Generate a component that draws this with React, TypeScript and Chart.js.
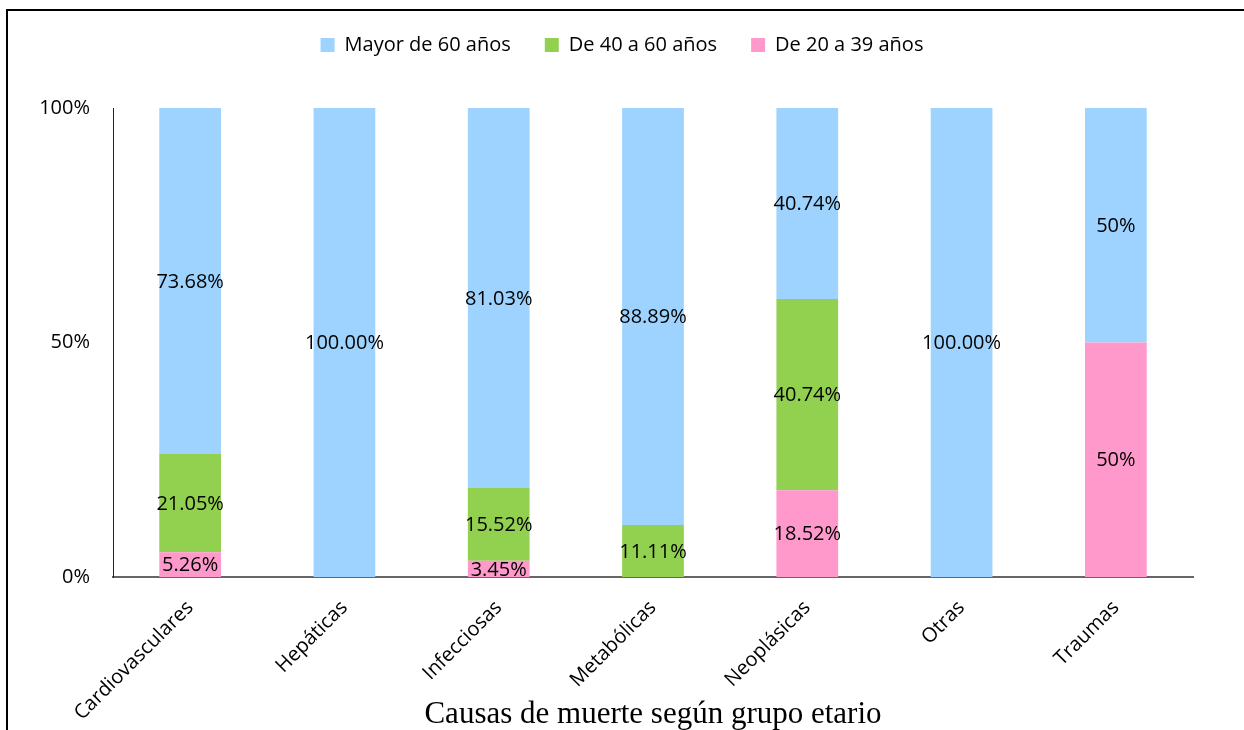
import React, { useEffect, useRef } from "react";
import { Chart, registerables } from "chart.js";

Chart.register(...registerables);

const categories = ["Cardiovasculares", "Hepáticas", "Infecciosas", "Metabólicas", "Neoplásicas", "Otras", "Traumas"];

const seriesNames = ["De 20 a 39 años", "De 40 a 60 años", "Mayor de 60 años"];
const de20a39 = [5.26, 0, 3.45, 0, 18.52, 0, 50];
const de40a60 = [21.05, 0, 15.52, 11.11, 40.74, 0, 0];
const mayor60 = [73.68, 100, 81.03, 88.89, 40.74, 100, 50];

const de20a39Labels = ["5.26%", "", "3.45%", "", "18.52%", "", "50%"];
const de40a60Labels = ["21.05%", "", "15.52%", "11.11%", "40.74%", "", ""];
const mayor60Labels = ["73.68%", "100.00%", "81.03%", "88.89%", "40.74%", "100.00%", "50%"];

const yTickValues = [0, 50, 100];
const xTitle = "Causas de muerte según grupo etario";

const colors = ["#FF99CC", "#92D050", "#9DD3FE"];
const FONT = "'Open Sans', sans-serif";

const dataLabelPlugin = {
  id: "segLabels",
  afterDatasetsDraw(chart: any) {
    const ctx = chart.ctx;
    const all = [de20a39Labels, de40a60Labels, mayor60Labels];
    ctx.save();
    ctx.font = `20px ${FONT}`;
    ctx.fillStyle = "#000";
    ctx.textAlign = "center";
    ctx.textBaseline = "middle";
    chart.data.datasets.forEach((ds: any, di: number) => {
      const meta = chart.getDatasetMeta(di);
      meta.data.forEach((el: any, i: number) => {
        const txt = all[di][i];
        if (!txt) return;
        const cy = (el.y + el.base) / 2 + 1;
        ctx.fillText(txt, el.x, cy);
      });
    });
    ctx.restore();
  },
};

const legendSpacer = {
  id: "legendSpacer",
  beforeInit(chart: any) {
    const orig = chart.legend.fit;
    chart.legend.fit = function () {
      orig.call(this);
      this.height += 43;
    };
  },
};

export default function App() {
  const ref = useRef<HTMLCanvasElement>(null);
  useEffect(() => {
    if (!ref.current) return;
    const chart = new Chart(ref.current, {
      type: "bar",
      data: {
        labels: categories,
        datasets: [
          { label: seriesNames[0], data: de20a39, backgroundColor: colors[0], borderWidth: 0 },
          { label: seriesNames[1], data: de40a60, backgroundColor: colors[1], borderWidth: 0 },
          { label: seriesNames[2], data: mayor60, backgroundColor: colors[2], borderWidth: 0 },
        ],
      },
      options: {
        responsive: false,
        animation: false,
        devicePixelRatio: 1,
        layout: { padding: { top: 1, left: 0, right: 0, bottom: 0 } },
        datasets: { bar: { categoryPercentage: 1, barPercentage: 0.4 } },
        plugins: {
          tooltip: { enabled: false },
          legend: {
            position: "top",
            reverse: true,
            labels: {
              boxWidth: 14,
              boxHeight: 14,
              padding: 34,
              color: "#000",
              font: { family: FONT, size: 20 },
            },
          },
        },
        scales: {
          x: {
            stacked: true,
            grid: { display: false },
            border: { display: true, color: "#666", width: 2 },
            ticks: {
              color: "#000",
              font: { family: FONT, size: 20 },
              minRotation: 45,
              maxRotation: 45,
              autoSkip: false,
              padding: 11,
            },
            title: {
              display: true,
              text: xTitle,
              color: "#000",
              font: { family: "'Liberation Serif', 'Times New Roman', serif", size: 31 },
              padding: { top: 0, bottom: -3 },
            },
            afterFit(s: any) {
              s.height = 153;
            },
          },
          y: {
            stacked: true,
            min: 0,
            max: 100,
            grid: { display: false },
            border: { display: true, color: "#222", width: 1 },
            afterBuildTicks(s: any) {
              s.ticks = yTickValues.map((v) => ({ value: v }));
            },
            ticks: {
              color: "#000",
              font: { family: FONT, size: 20 },
              padding: 15,
              callback: (v: any) => `${v}%`,
            },
            afterFit(s: any) {
              s.width = 113;
            },
          },
          y2: {
            type: "linear",
            position: "right",
            display: true,
            grid: { display: false },
            border: { display: false },
            ticks: { display: false },
            afterFit(s: any) {
              s.width = 51;
            },
          },
        },
      } as any,
      plugins: [dataLabelPlugin, legendSpacer],
    });
    return () => chart.destroy();
  }, []);

  return (
    <div style={{ position: "fixed", left: 0, top: 0, width: 1244, height: 730, background: "#fff", overflow: "hidden" }}>
      <canvas ref={ref} width={1244} height={730} style={{ position: "absolute", left: 0, top: 0, width: 1244, height: 730 }} />
      <div
        style={{
          position: "absolute",
          left: 6,
          top: 9,
          width: 1300,
          height: 800,
          border: "2px solid #000",
          pointerEvents: "none",
        }}
      />
    </div>
  );
}
